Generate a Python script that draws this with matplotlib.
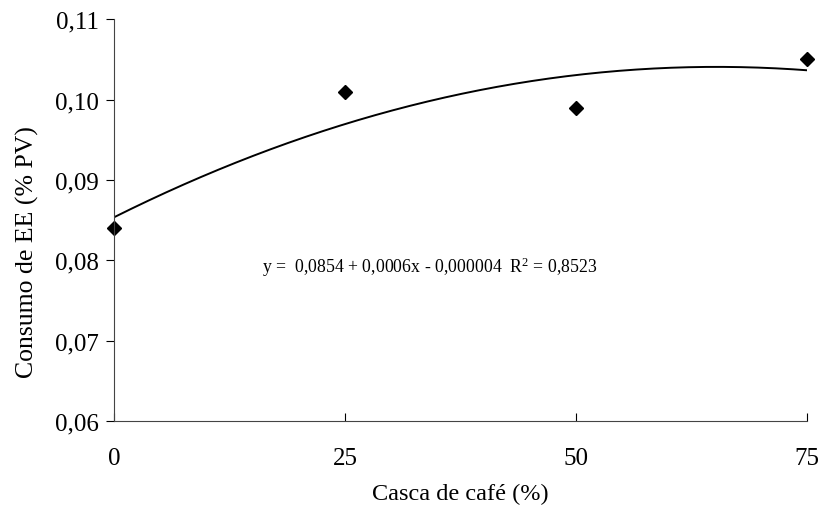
import matplotlib
matplotlib.use('Agg')
import matplotlib.pyplot as plt
import matplotlib.ticker as mticker
import numpy as np

plt.rcParams['font.family'] = ['Liberation Serif', 'DejaVu Serif']
plt.rcParams['mathtext.fontset'] = 'custom'
plt.rcParams['mathtext.rm'] = 'Liberation Serif'
plt.rcParams['mathtext.it'] = 'Liberation Serif:italic'

casca = [0, 25, 50, 75]
consumo_ee = [0.084, 0.101, 0.099, 0.105]
xticks = [0, 25, 50, 75]
yticks = [0.06, 0.07, 0.08, 0.09, 0.10, 0.11]
equacao = 'y =  0,0854 + 0,0006x - 0,000004  R$^\\mathrm{2}$ = 0,8523'

# quadratic trend line fitted to the points
coef = np.polyfit(casca, consumo_ee, 2)
xs = np.linspace(0, 75, 200)
ys = np.polyval(coef, xs)

fig = plt.figure(figsize=(8.2, 5.06), dpi=100)
ax = fig.add_axes([0.139, 0.166, 0.845, 0.794])

ax.plot(xs, ys, color='black', linewidth=1.4)
ax.plot(casca, consumo_ee, linestyle='none', marker='D', markersize=7,
        color='black', clip_on=False)

ax.set_xlim(0, 75)
ax.set_ylim(0.06, 0.11)
ax.set_xticks(xticks)
ax.set_yticks(yticks)
ax.yaxis.set_major_formatter(mticker.FuncFormatter(lambda v, p: f'{v:.2f}'.replace('.', ',')))
ax.tick_params(axis='x', direction='in', length=6, labelsize=18, pad=19)
ax.tick_params(axis='y', direction='out', length=6, labelsize=18, pad=5)

for s in ['top', 'right']:
    ax.spines[s].set_visible(False)
for s in ['left', 'bottom']:
    ax.spines[s].set_color('#444444')

ax.set_xlabel('Casca de café (%)', fontsize=17.5, labelpad=10)
ax.set_ylabel('Consumo de EE (% PV)', fontsize=18.5)
ax.yaxis.set_label_coords(-0.108, 0.423)

ax.text(16, 0.0792, equacao, fontsize=12.8, ha='left', va='center')

fig.savefig('out.png', dpi=100)
